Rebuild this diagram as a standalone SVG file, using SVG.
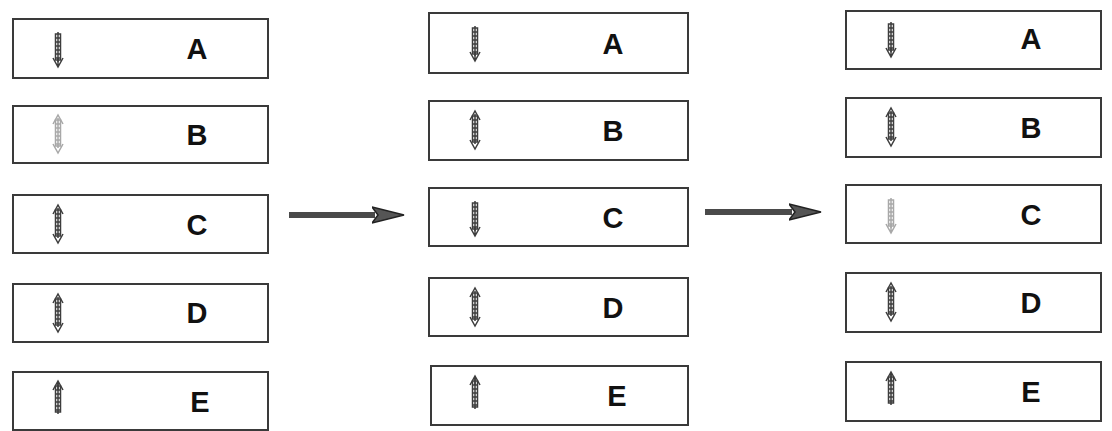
<svg xmlns="http://www.w3.org/2000/svg" width="1112" height="431" viewBox="0 0 1112 431">
<style>
svg{color:#3d3d3d}
.box{fill:#fff;stroke:#3a3a3a;stroke-width:2}
.lbl{font-family:"Liberation Sans",Arial,sans-serif;font-weight:bold;font-size:29px;fill:#111;text-anchor:middle}
.ic{fill:none;stroke:currentColor;stroke-width:1.5}
.faint{color:#a8a8a8}
.conn{stroke:#4a4a4a;stroke-width:6;fill:none}
</style>
<defs>
<marker id="ah" markerUnits="userSpaceOnUse" markerWidth="34" markerHeight="20" refX="3" refY="10" orient="auto" viewBox="0 0 34 20">
<path d="M0,2 L32,10 L0,18 L6,10 Z" fill="#555" stroke="#222" stroke-width="1.5"/>
</marker>
<g id="shaft">
<rect class="ic" x="-2.5" y="-14" width="5" height="26"/>
<path class="ic" d="M-2.5,-10H2.5M-2.5,-6H2.5M-2.5,-2H2.5M-2.5,2H2.5M-2.5,6H2.5M-2.5,10H2.5M0,-16V14"/>
</g>
<g id="ico-down">
<use href="#shaft"/>
<path class="ic" d="M-5,10 L0,19 L5,10 M0,10 V19" stroke-width="1.9"/>
</g>
<g id="ico-up">
<use href="#shaft"/>
<path class="ic" d="M-5,-10 L0,-19 L5,-10 M0,-10 V-19" stroke-width="1.9"/>
</g>
<g id="ico-both">
<use href="#shaft"/>
<path class="ic" d="M-5,-10 L0,-19 L5,-10 M-5,10 L0,19 L5,10" stroke-width="1.9"/>
</g>
</defs>
<rect width="1112" height="431" fill="#fff"/>

<g id="c1A"><rect class="box" x="13" y="19" width="255" height="59"/><use href="#ico-down" x="58" y="48"/><text class="lbl" x="197" y="59">A</text></g>
<g id="c1B"><rect class="box" x="13" y="106" width="255" height="57"/><use class="faint" href="#ico-both" x="58" y="134"/><text class="lbl" x="197" y="145">B</text></g>
<g id="c1C"><rect class="box" x="13" y="195" width="255" height="58"/><use href="#ico-both" x="58" y="224"/><text class="lbl" x="197" y="235">C</text></g>
<g id="c1D"><rect class="box" x="13" y="284" width="255" height="58"/><use href="#ico-both" x="58" y="313"/><text class="lbl" x="197" y="323">D</text></g>
<g id="c1E"><rect class="box" x="13" y="372" width="255" height="58"/><use href="#ico-up" x="58" y="400"/><text class="lbl" x="200" y="412">E</text></g>

<g id="c2A"><rect class="box" x="429" y="13" width="259" height="60"/><use href="#ico-down" x="475" y="42"/><text class="lbl" x="613" y="54">A</text></g>
<g id="c2B"><rect class="box" x="429" y="101" width="259" height="59"/><use href="#ico-both" x="475" y="130"/><text class="lbl" x="613" y="141">B</text></g>
<g id="c2C"><rect class="box" x="429" y="188" width="259" height="58"/><use href="#ico-down" x="475" y="217"/><text class="lbl" x="613" y="228">C</text></g>
<g id="c2D"><rect class="box" x="429" y="278" width="259" height="58"/><use href="#ico-both" x="475" y="307"/><text class="lbl" x="613" y="318">D</text></g>
<g id="c2E"><rect class="box" x="431" y="366" width="257" height="59"/><use href="#ico-up" x="475" y="395"/><text class="lbl" x="617" y="406">E</text></g>

<g id="c3A"><rect class="box" x="846" y="11" width="255" height="58"/><use href="#ico-down" x="891" y="38"/><text class="lbl" x="1031" y="49">A</text></g>
<g id="c3B"><rect class="box" x="846" y="98" width="255" height="59"/><use href="#ico-both" x="891" y="127"/><text class="lbl" x="1031" y="138">B</text></g>
<g id="c3C"><rect class="box" x="846" y="185" width="255" height="58"/><use class="faint" href="#ico-down" x="891" y="214"/><text class="lbl" x="1031" y="225">C</text></g>
<g id="c3D"><rect class="box" x="846" y="273" width="255" height="59"/><use href="#ico-both" x="891" y="302"/><text class="lbl" x="1031" y="313">D</text></g>
<g id="c3E"><rect class="box" x="846" y="362" width="255" height="59"/><use href="#ico-up" x="891" y="391"/><text class="lbl" x="1031" y="402">E</text></g>

<g id="connectors">
<line class="conn" x1="289" y1="215" x2="375" y2="215" marker-end="url(#ah)"/>
<line class="conn" x1="705" y1="212" x2="792" y2="212" marker-end="url(#ah)"/>
</g>
</svg>
